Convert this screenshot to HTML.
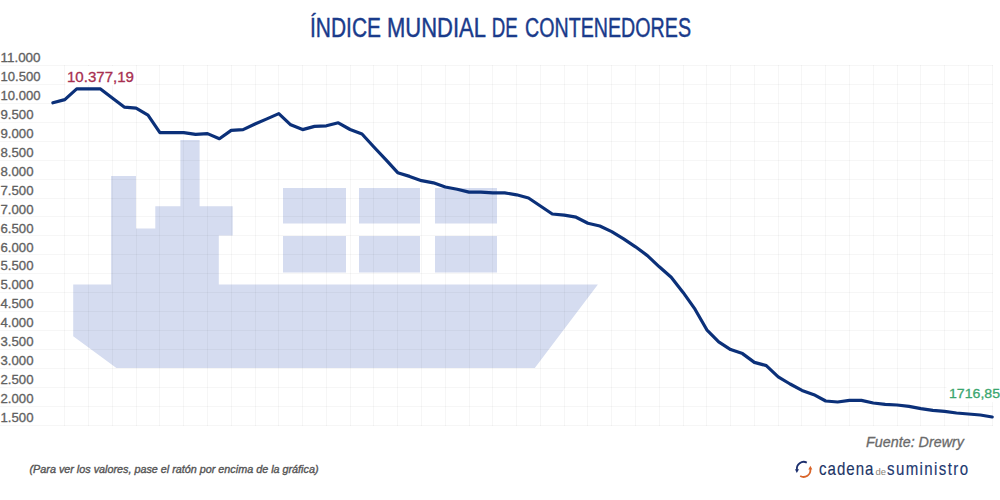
<!DOCTYPE html>
<html><head><meta charset="utf-8"><style>
html,body{margin:0;padding:0;background:#fff;width:1000px;height:500px;overflow:hidden}
svg{position:absolute;left:0;top:0}
text{font-family:"Liberation Sans",sans-serif}
</style></head><body>
<svg width="1000" height="500" viewBox="0 0 1000 500">
<rect width="1000" height="500" fill="#fff"/>
<g fill="#d5dcf0"><polygon points="73.2,284.5 111.1,284.5 111.1,176 136,176 136,228.4 155.3,228.4 155.3,206.3 180.4,206.3 180.4,140.1 199.6,140.1 199.6,206.3 232.7,206.3 232.7,235.6 218.8,235.6 218.8,284.5 597.9,284.5 534.8,368 116.4,368 73.2,336.3"/><rect x="283" y="188" width="63" height="35.5"/><rect x="283" y="236" width="63" height="36.5"/><rect x="359" y="188" width="61" height="35.5"/><rect x="359" y="236" width="61" height="36.5"/><rect x="435" y="188" width="62" height="35.5"/><rect x="435" y="236" width="62" height="36.5"/></g>
<g stroke="#000" stroke-opacity="0.036" stroke-width="1"><line x1="0" y1="65.5" x2="993" y2="65.5"/><line x1="0" y1="84.5" x2="993" y2="84.5"/><line x1="0" y1="103.5" x2="993" y2="103.5"/><line x1="0" y1="122.5" x2="993" y2="122.5"/><line x1="0" y1="141.5" x2="993" y2="141.5"/><line x1="0" y1="160.5" x2="993" y2="160.5"/><line x1="0" y1="179.5" x2="993" y2="179.5"/><line x1="0" y1="198.5" x2="993" y2="198.5"/><line x1="0" y1="216.5" x2="993" y2="216.5"/><line x1="0" y1="235.5" x2="993" y2="235.5"/><line x1="0" y1="254.5" x2="993" y2="254.5"/><line x1="0" y1="273.5" x2="993" y2="273.5"/><line x1="0" y1="292.5" x2="993" y2="292.5"/><line x1="0" y1="311.5" x2="993" y2="311.5"/><line x1="0" y1="330.5" x2="993" y2="330.5"/><line x1="0" y1="349.5" x2="993" y2="349.5"/><line x1="0" y1="368.5" x2="993" y2="368.5"/><line x1="0" y1="387.5" x2="993" y2="387.5"/><line x1="0" y1="406.5" x2="993" y2="406.5"/><line x1="0" y1="425.5" x2="993" y2="425.5"/><line x1="64.5" y1="65" x2="64.5" y2="426"/><line x1="88.5" y1="65" x2="88.5" y2="426"/><line x1="112.5" y1="65" x2="112.5" y2="426"/><line x1="136.5" y1="65" x2="136.5" y2="426"/><line x1="159.5" y1="65" x2="159.5" y2="426"/><line x1="183.5" y1="65" x2="183.5" y2="426"/><line x1="207.5" y1="65" x2="207.5" y2="426"/><line x1="231.5" y1="65" x2="231.5" y2="426"/><line x1="255.5" y1="65" x2="255.5" y2="426"/><line x1="278.5" y1="65" x2="278.5" y2="426"/><line x1="302.5" y1="65" x2="302.5" y2="426"/><line x1="326.5" y1="65" x2="326.5" y2="426"/><line x1="350.5" y1="65" x2="350.5" y2="426"/><line x1="373.5" y1="65" x2="373.5" y2="426"/><line x1="397.5" y1="65" x2="397.5" y2="426"/><line x1="421.5" y1="65" x2="421.5" y2="426"/><line x1="445.5" y1="65" x2="445.5" y2="426"/><line x1="469.5" y1="65" x2="469.5" y2="426"/><line x1="492.5" y1="65" x2="492.5" y2="426"/><line x1="516.5" y1="65" x2="516.5" y2="426"/><line x1="540.5" y1="65" x2="540.5" y2="426"/><line x1="564.5" y1="65" x2="564.5" y2="426"/><line x1="587.5" y1="65" x2="587.5" y2="426"/><line x1="611.5" y1="65" x2="611.5" y2="426"/><line x1="635.5" y1="65" x2="635.5" y2="426"/><line x1="659.5" y1="65" x2="659.5" y2="426"/><line x1="683.5" y1="65" x2="683.5" y2="426"/><line x1="706.5" y1="65" x2="706.5" y2="426"/><line x1="730.5" y1="65" x2="730.5" y2="426"/><line x1="754.5" y1="65" x2="754.5" y2="426"/><line x1="778.5" y1="65" x2="778.5" y2="426"/><line x1="801.5" y1="65" x2="801.5" y2="426"/><line x1="825.5" y1="65" x2="825.5" y2="426"/><line x1="849.5" y1="65" x2="849.5" y2="426"/><line x1="873.5" y1="65" x2="873.5" y2="426"/><line x1="897.5" y1="65" x2="897.5" y2="426"/><line x1="920.5" y1="65" x2="920.5" y2="426"/><line x1="944.5" y1="65" x2="944.5" y2="426"/><line x1="968.5" y1="65" x2="968.5" y2="426"/><line x1="992.5" y1="65" x2="992.5" y2="426"/></g>
<rect x="65.5" y="66" width="70" height="19" fill="#fff"/><rect x="946.5" y="384" width="54" height="18" fill="#fff"/>
<g fill="#616161" font-size="12" stroke="#616161" stroke-width="0.3"><text x="0.5" y="62.3" textLength="40.0" lengthAdjust="spacingAndGlyphs">11.000</text><text x="0.5" y="81.2" textLength="40.0" lengthAdjust="spacingAndGlyphs">10.500</text><text x="0.5" y="100.1" textLength="40.0" lengthAdjust="spacingAndGlyphs">10.000</text><text x="0.5" y="119.0" textLength="33.0" lengthAdjust="spacingAndGlyphs">9.500</text><text x="0.5" y="138.0" textLength="33.0" lengthAdjust="spacingAndGlyphs">9.000</text><text x="0.5" y="156.9" textLength="33.0" lengthAdjust="spacingAndGlyphs">8.500</text><text x="0.5" y="175.8" textLength="33.0" lengthAdjust="spacingAndGlyphs">8.000</text><text x="0.5" y="194.7" textLength="33.0" lengthAdjust="spacingAndGlyphs">7.500</text><text x="0.5" y="213.6" textLength="33.0" lengthAdjust="spacingAndGlyphs">7.000</text><text x="0.5" y="232.5" textLength="33.0" lengthAdjust="spacingAndGlyphs">6.500</text><text x="0.5" y="251.5" textLength="33.0" lengthAdjust="spacingAndGlyphs">6.000</text><text x="0.5" y="270.4" textLength="33.0" lengthAdjust="spacingAndGlyphs">5.500</text><text x="0.5" y="289.3" textLength="33.0" lengthAdjust="spacingAndGlyphs">5.000</text><text x="0.5" y="308.2" textLength="33.0" lengthAdjust="spacingAndGlyphs">4.500</text><text x="0.5" y="327.1" textLength="33.0" lengthAdjust="spacingAndGlyphs">4.000</text><text x="0.5" y="346.0" textLength="33.0" lengthAdjust="spacingAndGlyphs">3.500</text><text x="0.5" y="365.0" textLength="33.0" lengthAdjust="spacingAndGlyphs">3.000</text><text x="0.5" y="383.9" textLength="33.0" lengthAdjust="spacingAndGlyphs">2.500</text><text x="0.5" y="402.8" textLength="33.0" lengthAdjust="spacingAndGlyphs">2.000</text><text x="0.5" y="421.7" textLength="33.0" lengthAdjust="spacingAndGlyphs">1.500</text></g>
<polyline points="52.9,102.8 64.8,99.6 76.7,88.9 88.6,88.9 100.5,88.9 112.3,98.0 124.2,107.1 136.1,108.1 148.0,115.1 159.9,132.7 171.8,132.7 183.7,132.7 195.6,134.4 207.5,133.6 219.4,138.7 231.2,130.4 243.1,129.6 255.0,124.0 266.9,118.9 278.8,113.6 290.7,124.8 302.6,129.6 314.5,126.4 326.4,125.8 338.3,122.8 350.1,129.5 362.0,134.0 373.9,147.0 385.8,159.6 397.7,172.7 409.6,176.4 421.5,180.7 433.4,182.8 445.3,187.0 457.2,189.2 469.0,192.1 480.9,192.1 492.8,192.9 504.7,192.9 516.6,194.8 528.5,198.0 540.4,206.0 552.3,214.0 564.2,215.1 576.1,217.2 587.9,223.2 599.8,226.0 611.7,231.6 623.6,238.8 635.5,246.8 647.4,255.6 659.3,266.8 671.2,277.2 683.1,292.4 695.0,309.2 706.8,329.8 718.7,341.8 730.6,349.6 742.5,353.6 754.4,362.4 766.3,365.6 778.2,376.8 790.1,384.0 802.0,390.4 813.9,394.7 825.7,401.0 837.6,402.0 849.5,400.4 861.4,400.4 873.3,403.0 885.2,404.4 897.1,405.0 909.0,406.4 920.9,408.6 932.8,410.4 944.6,411.4 956.5,413.0 968.4,414.0 980.3,415.0 992.2,417.0" fill="none" stroke="#0b3079" stroke-width="3.2" stroke-linejoin="round" stroke-linecap="round"/>
<text x="67" y="81.7" font-size="14.2" fill="#a82f50" stroke="#a82f50" stroke-width="0.3" textLength="67" lengthAdjust="spacingAndGlyphs" >10.377,19</text>
<text x="949" y="397.6" font-size="13.4" fill="#3aa66e" stroke="#3aa66e" stroke-width="0.3" textLength="51" lengthAdjust="spacingAndGlyphs" >1716,85</text>
<text x="310" y="36.8" font-size="27" fill="#1a3b8b" stroke="#1a3b8b" stroke-width="0.45" textLength="71" lengthAdjust="spacingAndGlyphs" >ÍNDICE</text>
<text x="387" y="36.8" font-size="27" fill="#1a3b8b" stroke="#1a3b8b" stroke-width="0.45" textLength="99" lengthAdjust="spacingAndGlyphs" >MUNDIAL</text>
<text x="491.80000000000007" y="36.8" font-size="27" fill="#1a3b8b" stroke="#1a3b8b" stroke-width="0.45" textLength="26.0" lengthAdjust="spacingAndGlyphs" >DE</text>
<text x="525" y="36.8" font-size="27" fill="#1a3b8b" stroke="#1a3b8b" stroke-width="0.45" textLength="166" lengthAdjust="spacingAndGlyphs" >CONTENEDORES</text>
<text x="866" y="446.6" font-size="14.5" fill="#6a6a6a" stroke="#6a6a6a" stroke-width="0.3" textLength="98" lengthAdjust="spacingAndGlyphs" font-style="italic">Fuente: Drewry</text>
<text x="29.5" y="472.6" font-size="10" fill="#555" stroke="#555" stroke-width="0.35" textLength="289" lengthAdjust="spacingAndGlyphs" font-style="italic">(Para ver los valores, pase el ratón por encima de la gráfica)</text>
<text x="952.44" y="475" font-size="17.5" fill="#1c3566" stroke="#1c3566" stroke-width="0.15" transform="scale(0.86,1)" textLength="63.26" lengthAdjust="spacing">cadena</text>
<text x="875.5" y="475" font-size="9" fill="#8a8478" textLength="10.5" lengthAdjust="spacingAndGlyphs" >de</text>
<text x="1031.40" y="475" font-size="17.5" fill="#1c3870" stroke="#1c3870" stroke-width="0.15" transform="scale(0.86,1)" textLength="94.19" lengthAdjust="spacing">suministro</text>
<g fill="none" stroke-width="1.8" stroke-linecap="butt">
<path d="M806.8,462.6 A6.8,6.8 0 0 0 797,469.8" stroke="#1c2f6e"/>
<path d="M795,469.3 L796.8,473 L799,469.3 Z" fill="#1c2f6e" stroke="none"/>
<path d="M800.2,476 A6.8,6.8 0 0 0 810.3,469" stroke="#d9652a"/>
<path d="M808.3,469.6 L810.4,465.8 L812.3,469.6 Z" fill="#d9652a" stroke="none"/>
</g>
</svg>
</body></html>
